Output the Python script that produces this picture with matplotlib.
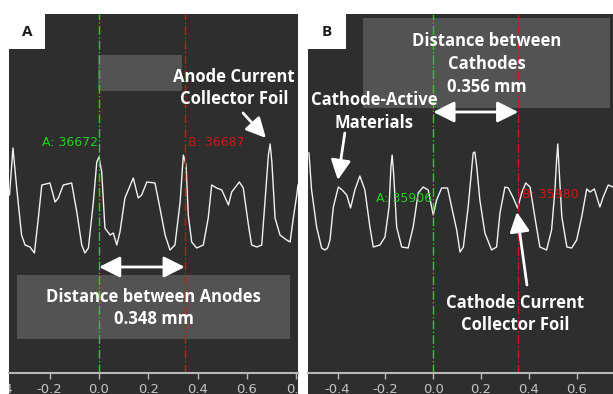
import matplotlib.pyplot as plt
from matplotlib.patches import Rectangle
import matplotlib.transforms as mtransforms

# Line profiles across the electrode stack (position in mm, grey level)
anode_x = [-0.363, -0.349, -0.333, -0.314, -0.300, -0.280, -0.262, -0.246, -0.232, -0.199,
           -0.178, -0.165, -0.145, -0.111, -0.090, -0.070, -0.057, -0.043, -0.023, -0.009,
           0.000, 0.011, 0.024, 0.045, 0.058, 0.072, 0.085, 0.105, 0.139, 0.159,
           0.173, 0.194, 0.227, 0.247, 0.268, 0.288, 0.308, 0.329, 0.342, 0.353,
           0.362, 0.376, 0.396, 0.423, 0.443, 0.457, 0.477, 0.498, 0.525, 0.538,
           0.569, 0.585, 0.606, 0.619, 0.640, 0.660, 0.673, 0.687, 0.694, 0.701,
           0.714, 0.734, 0.761, 0.775, 0.788, 0.802, 0.807]
anode_y = [178, 225, 183, 138, 128, 126, 120, 155, 188, 190,
           171, 175, 188, 190, 161, 128, 120, 125, 171, 211,
           216, 201, 145, 138, 140, 128, 141, 175, 195, 175,
           178, 191, 190, 165, 138, 123, 128, 171, 218, 208,
           158, 131, 125, 128, 155, 188, 185, 183, 168, 181,
           191, 185, 148, 128, 126, 128, 171, 218, 229, 211,
           155, 138, 133, 131, 155, 178, 188]

cathode_x = [-0.520, -0.509, -0.488, -0.467, -0.453, -0.442, -0.432, -0.418, -0.397, -0.381,
             -0.362, -0.346, -0.328, -0.307, -0.286, -0.265, -0.251, -0.223, -0.202, -0.185,
             -0.177, -0.172, -0.166, -0.153, -0.132, -0.105, -0.084, -0.063, -0.042, -0.021,
             0.000, 0.014, 0.035, 0.060, 0.077, 0.098, 0.112, 0.126, 0.146, 0.167,
             0.174, 0.182, 0.195, 0.216, 0.244, 0.265, 0.279, 0.300, 0.314, 0.335,
             0.353, 0.370, 0.387, 0.405, 0.425, 0.446, 0.474, 0.495, 0.509, 0.516,
             0.521, 0.526, 0.538, 0.559, 0.579, 0.600, 0.621, 0.642, 0.656, 0.674,
             0.697, 0.711, 0.732, 0.752]
cathode_y = [220, 183, 146, 125, 123, 125, 133, 166, 186, 183,
             178, 165, 183, 197, 183, 146, 126, 128, 136, 166,
             206, 218, 200, 146, 126, 125, 146, 180, 186, 183,
             158, 173, 185, 185, 166, 143, 121, 126, 166, 220,
             221, 206, 173, 140, 123, 126, 160, 186, 185, 175,
             165, 180, 190, 186, 156, 126, 123, 143, 183, 213,
             229, 206, 156, 126, 125, 133, 156, 184, 181, 184,
             166, 176, 188, 186]

tick_values = [-0.6, -0.4, -0.2, 0.0, 0.2, 0.4, 0.6, 0.8]
tick_labels = ['-0.6', '-0.4', '-0.2', '0.0', '0.2', '0.4', '0.6', '0.8']

anode_cursor = 0.348
cathode_cursor = 0.356

BG = '#2e2e2e'
BOX = '#545354'
GREEN = '#1fd21f'
RED = '#d41414'
AXIS_GRAY = '#b8b8b8'
BOLD = dict(family=['Open Sans', 'DejaVu Sans'], fontweight='bold', color='white',
            fontsize=12, linespacing=1.35, ha='center', va='center')

W, H = 613, 394
fig = plt.figure(figsize=(W / 100, H / 100), dpi=100, facecolor='white')


def make_panel(x0, x1, xlim, letter, letter_w):
    # dark backdrop including the tick label strip
    bg = Rectangle((x0 / W, 0), (x1 - x0) / W, (H - 14) / H, transform=fig.transFigure,
                   facecolor=BG, edgecolor='none', zorder=-5)
    fig.patches.append(bg)
    # white corner tag with the panel letter
    tag = Rectangle((x0 / W, (H - 49) / H), letter_w / W, 35 / H, transform=fig.transFigure,
                    facecolor='white', edgecolor='none', zorder=3)
    fig.patches.append(tag)
    fig.text((x0 + letter_w / 2) / W, (H - 32) / H, letter, ha='center', va='center',
             family=['Open Sans', 'DejaVu Sans'], fontweight='bold', fontsize=11,
             color='#1a1a1a', zorder=4)

    ax = fig.add_axes([x0 / W, (H - 373) / H, (x1 - x0) / W, 359 / H])
    ax.set_facecolor('none')
    ax.set_xlim(*xlim)
    ax.set_ylim(0, 359)
    for side in ['top', 'left', 'right']:
        ax.spines[side].set_visible(False)
    ax.spines['bottom'].set_color(AXIS_GRAY)
    ax.spines['bottom'].set_linewidth(1.5)
    ax.set_yticks([])
    ax.set_xticks([t for t in tick_values if xlim[0] <= t <= xlim[1]])
    ax.tick_params(axis='x', colors=AXIS_GRAY, length=4, width=1, labelbottom=False)

    trans = mtransforms.blended_transform_factory(ax.transData, ax.transAxes)
    for t, lab in zip(tick_values, tick_labels):
        txt = ax.text(t, -0.047, lab, transform=trans, ha='center', va='center',
                      fontsize=9.5, color='#c4c4c4')
        txt.set_clip_path(bg)
        txt.set_clip_on(True)
    return ax


def cursors(ax, xb, ya, yb, a_label, b_label):
    ax.axvline(0, color=GREEN, lw=1, ls='-.')
    ax.axvline(xb, color=RED, lw=1, ls='-.')
    ax.text(-0.003, ya, a_label, color=GREEN, fontsize=9, ha='right', va='center')
    ax.text(xb + 0.014, yb, b_label, color=RED, fontsize=9, ha='left', va='center')


def double_arrow(ax, xb, y):
    ax.annotate('', xy=(0, y), xytext=(xb, y),
                arrowprops=dict(arrowstyle='<|-|>,head_length=0.4,head_width=0.2',
                                mutation_scale=32, lw=2, color='white',
                                shrinkA=0, shrinkB=0))


def pointer(ax, start, tip):
    ax.annotate('', xy=tip, xytext=start,
                arrowprops=dict(arrowstyle='-|>,head_length=0.6,head_width=0.3',
                                mutation_scale=20, lw=2, color='white',
                                shrinkA=0, shrinkB=0))


# Panel A: anodes
axA = make_panel(9, 298, (-0.365, 0.807), 'A', 36)
axA.plot(anode_x, anode_y, color='#f2f2f2', lw=1)
cursors(axA, anode_cursor, 231, 231, 'A: 36672', 'B: 36687')
axA.add_patch(Rectangle((-0.004, 282), 0.341, 36, facecolor=BOX, edgecolor='none'))
axA.add_patch(Rectangle((-0.333, 34), 1.108, 64, facecolor=BOX, edgecolor='none'))
axA.text(0.221, 65, 'Distance between Anodes\n0.348 mm', **BOLD)
axA.text(0.548, 285, 'Anode Current\nCollector Foil', **BOLD)
double_arrow(axA, anode_cursor, 106)
pointer(axA, (0.584, 260), (0.677, 235))

# Panel B: cathodes
axB = make_panel(308, 613, (-0.524, 0.752), 'B', 38)
axB.plot(cathode_x, cathode_y, color='#f2f2f2', lw=1)
cursors(axB, cathode_cursor, 174, 178, 'A: 35906', 'B: 35980')
axB.add_patch(Rectangle((-0.294, 265), 1.033, 90, facecolor=BOX, edgecolor='none'))
axB.text(0.225, 309, 'Distance between\nCathodes\n0.356 mm', **BOLD)
axB.text(-0.248, 261.5, 'Cathode-Active\nMaterials', **BOLD)
axB.text(0.342, 59, 'Cathode Current\nCollector Foil', **BOLD)
double_arrow(axB, cathode_cursor, 261)
pointer(axB, (-0.370, 240), (-0.399, 193))
pointer(axB, (0.392, 88), (0.350, 161))

fig.savefig('out.png', dpi=100, facecolor='white')
